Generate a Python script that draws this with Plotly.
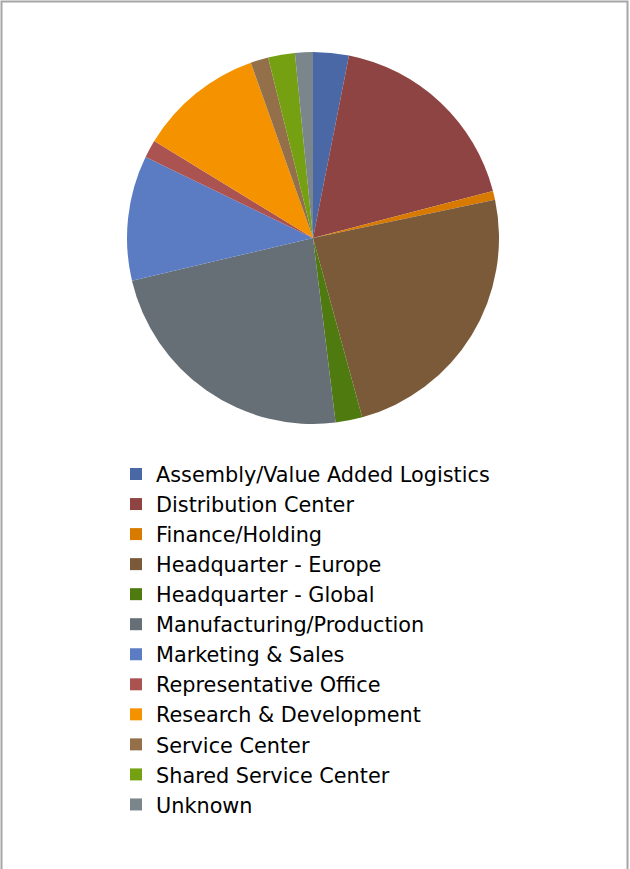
import plotly.graph_objects as go

categories = [
    "Assembly/Value Added Logistics",
    "Distribution Center",
    "Finance/Holding",
    "Headquarter - Europe",
    "Headquarter - Global",
    "Manufacturing/Production",
    "Marketing & Sales",
    "Representative Office",
    "Research & Development",
    "Service Center",
    "Shared Service Center",
    "Unknown",
]
counts = [4, 23, 1, 31, 3, 30, 14, 2, 14, 2, 3, 2]
colors = [
    "#4a67a6", "#8e4443", "#d97a00", "#7b5a39", "#4f7a0f", "#656f75",
    "#5b7cc2", "#aa5351", "#f59200", "#93704a", "#75a012", "#7a868c",
]

W, H = 630, 869
cx, cy, r = 313, 238, 186

fig = go.Figure(go.Pie(
    labels=categories,
    values=counts,
    sort=False,
    direction="clockwise",
    rotation=0,
    textinfo="none",
    hoverinfo="label+value+percent",
    marker=dict(colors=colors, line=dict(width=0)),
    domain=dict(x=[(cx - r) / W, (cx + r) / W],
                y=[(H - cy - r) / H, (H - cy + r) / H]),
))

fig.update_layout(
    width=W, height=H,
    margin=dict(l=0, r=0, t=0, b=0),
    paper_bgcolor="white",
    showlegend=True,
    legend=dict(
        x=116 / W, y=(H - 454) / H, xanchor="left", yanchor="top",
        font=dict(family="DejaVu Sans", size=20.8, color="#000000"),
        bgcolor="rgba(0,0,0,0)", traceorder="normal",
    ),
    shapes=[dict(type="rect", xref="paper", yref="paper",
                 x0=1.5 / W, x1=(W - 2.5) / W, y0=-0.05, y1=(H - 1.5) / H,
                 line=dict(color="#a6a6a6", width=2))],
)

fig.write_html("out.html")
